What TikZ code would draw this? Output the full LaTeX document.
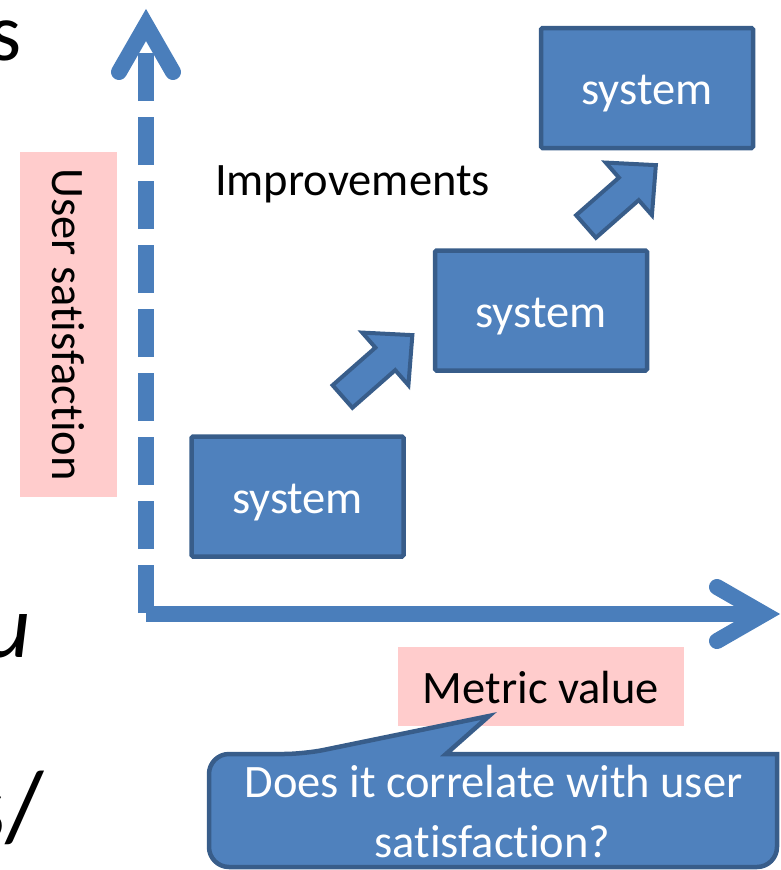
\documentclass[tikz,border=0pt]{standalone}
\usepackage{fontspec}
\setmainfont{Carlito}[Ligatures=NoCommon]
\definecolor{boxblue}{RGB}{79,129,189}
\definecolor{boxedge}{RGB}{56,93,138}
\definecolor{axisblue}{RGB}{74,126,187}
\definecolor{pinkbg}{RGB}{255,204,204}
\begin{document}
\begin{tikzpicture}[x=1pt,y=-1pt,
  bigfont/.style={font=\fontsize{46.5}{56}\selectfont},
  sysbox/.style={draw=boxedge, fill=boxblue, line width=4.5pt, rounded corners=1.5pt,
     minimum width=212pt, minimum height=120pt, inner sep=0pt, text=white, bigfont,
     text height=33pt, text depth=0pt},
  labelbox/.style={fill=pinkbg, inner sep=0pt, bigfont, text height=33pt, text depth=0pt},
  axisline/.style={draw=axisblue, line width=16pt},
  blockarrow/.style={draw=boxedge, fill=boxblue, line width=4pt, line join=miter},
  callout/.style={draw=boxedge, fill=boxblue, line width=4.5pt, line join=miter},
  frag/.style={anchor=base east, inner sep=0pt}
]
\useasboundingbox (0,0) rectangle (780,870);
\clip (0,0) rectangle (780,870);

% left-edge text fragments
\node[frag, font=\fontsize{82}{90}\selectfont] (fragA) at (22,60) {s};
\node[frag, font=\fontsize{90}{100}\selectfont\itshape] (fragB) at (31,657) {u};
\node[frag, font=\fontsize{100}{110}\selectfont] (fragC) at (44,840) {s/};

% y-axis label
\node[labelbox, rotate=-90, minimum width=345pt, minimum height=97pt] (ylabel) at (68.5,324.5) {User satisfaction};

% axes
\coordinate (ybot) at (146,613);
\coordinate (ytop) at (146,53);
\coordinate (yvert) at (146,25);
\coordinate (yarmL) at (119,72);
\coordinate (yarmR) at (173,72);
\coordinate (xleft) at (146,614);
\coordinate (xright) at (752,614);
\coordinate (xvert) at (764,614);
\coordinate (xarmU) at (717,587);
\coordinate (xarmD) at (717,641);
\draw[axisline, dash pattern=on 48pt off 16pt] (ybot) -- (ytop);
\draw[axisline, line cap=round, line join=miter] (yarmL) -- (yvert) -- (yarmR);
\draw[axisline] (xleft) -- (xright);
\draw[axisline, line cap=round, line join=miter] (xarmU) -- (xvert) -- (xarmD);

% systems
\node[sysbox] (s1) at (297.5,496.5) {system};
\node[sysbox] (s2) at (541,310.5) {system};
\node[sysbox] (s3) at (647,88) {system};

% improvement arrows
\begin{scope}[shift={(342.5,396.5)}, rotate=41.3]
  \draw[blockarrow] (0,-15) -- (57,-15) -- (57,-35) -- (93,0) -- (57,35) -- (57,15) -- (0,15) -- cycle;
\end{scope}
\begin{scope}[shift={(586,226.5)}, rotate=41.3]
  \draw[blockarrow] (0,-15) -- (57,-15) -- (57,-35) -- (93,0) -- (57,35) -- (57,15) -- (0,15) -- cycle;
\end{scope}

\node[bigfont, anchor=base, inner sep=0pt] (impr) at (352.5,195) {Improvements};

% metric label
\node[labelbox, minimum width=286pt, minimum height=79pt] (metric) at (541,686.5) {Metric value};

% callout
\coordinate (ctip) at (489,716);
\draw[callout] (ctip) -- (446,754) -- (777,754) [rounded corners=20pt] -- (777,867) -- (209,867) -- (209,754) -- (304,754) [sharp corners] -- cycle;
\node[bigfont, text=white, anchor=base, inner sep=0pt] (q1) at (493.5,797) {Does it correlate with user};
\node[bigfont, text=white, anchor=base, inner sep=0pt] (q2) at (492.5,857) {satisfaction?};
\end{tikzpicture}
\end{document}
